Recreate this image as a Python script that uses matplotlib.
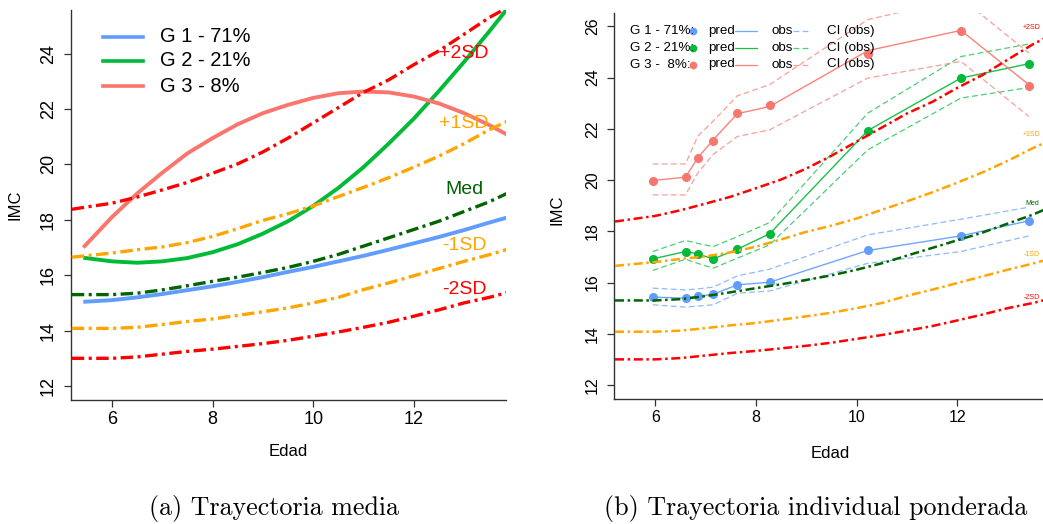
import matplotlib
matplotlib.use('Agg')
import matplotlib.pyplot as plt
from matplotlib.lines import Line2D

plt.rcParams['font.family'] = ['Liberation Sans', 'DejaVu Sans']
plt.rcParams['lines.scale_dashes'] = False

# ---------------- data ----------------
# reference curves (WHO-like), shared by both panels
ref_age = [5.2, 6, 6.5, 7, 7.5, 8, 8.5, 9, 9.5, 10, 10.5, 11, 11.5, 12, 12.5, 13, 13.5, 13.85]
ref_m2 = [13.0, 13.0, 13.05, 13.15, 13.25, 13.33, 13.43, 13.53, 13.65, 13.8, 13.95, 14.12, 14.3, 14.52, 14.75, 15.0, 15.2, 15.37]
ref_m1 = [14.08, 14.08, 14.12, 14.22, 14.33, 14.42, 14.55, 14.68, 14.82, 15.0, 15.2, 15.48, 15.72, 15.98, 16.24, 16.5, 16.74, 16.93]
ref_med = [15.3, 15.3, 15.35, 15.47, 15.62, 15.78, 15.93, 16.1, 16.28, 16.5, 16.75, 17.05, 17.35, 17.65, 17.95, 18.3, 18.65, 18.95]
ref_p1 = [16.65, 16.8, 16.92, 17.02, 17.18, 17.4, 17.68, 17.98, 18.22, 18.5, 18.84, 19.17, 19.52, 19.9, 20.3, 20.75, 21.25, 21.55]
ref_p2 = [18.38, 18.6, 18.82, 19.08, 19.35, 19.68, 20.02, 20.45, 20.95, 21.5, 22.05, 22.6, 23.05, 23.6, 24.1, 24.7, 25.3, 25.65]
ref_names = ['-2SD', '-1SD', 'Med', '+1SD', '+2SD']

# panel (a): mean trajectories
traj_age = [5.43, 6, 6.5, 7, 7.5, 8, 8.5, 9, 9.5, 10, 10.5, 11, 11.5, 12, 12.5, 13, 13.5, 13.85]
g1_traj = [15.04, 15.1, 15.2, 15.32, 15.46, 15.6, 15.76, 15.93, 16.12, 16.3, 16.5, 16.7, 16.92, 17.15, 17.38, 17.63, 17.9, 18.08]
g2_traj = [16.63, 16.5, 16.45, 16.5, 16.62, 16.83, 17.12, 17.5, 17.95, 18.5, 19.15, 19.9, 20.75, 21.65, 22.65, 23.7, 24.8, 25.6]
g3_traj = [17.0, 18.1, 18.95, 19.7, 20.4, 20.95, 21.45, 21.85, 22.15, 22.4, 22.57, 22.63, 22.6, 22.45, 22.2, 21.85, 21.42, 21.08]
group_labels = ['G 1 - 71%', 'G 2 - 21%', 'G 3 - 8%']
group_labels_b = ['G 1 - 71%:', 'G 2 - 21%:', 'G 3 -  8%:']

# panel (b): weighted individual trajectories
obs_age = [5.95, 6.6, 6.84, 7.15, 7.63, 8.27, 10.22, 12.07, 13.42]
g1_pred = [15.43, 15.39, 15.46, 15.54, 15.91, 16.01, 17.25, 17.82, 18.41]
g1_obs = [15.43, 15.39, 15.46, 15.54, 15.91, 16.01, 17.25, 17.82, 18.41]
g1_up = [15.78, 15.71, 15.75, 15.82, 16.26, 16.52, 17.86, 18.47, 18.94]
g1_lo = [15.13, 15.04, 15.08, 15.13, 15.58, 15.67, 16.75, 17.21, 17.82]
g2_pred = [16.92, 17.21, 17.12, 16.92, 17.3, 17.9, 21.93, 23.98, 24.54]
g2_obs = [16.92, 17.21, 17.12, 16.92, 17.3, 17.9, 21.93, 23.98, 24.54]
g2_up = [17.21, 17.64, 17.53, 17.4, 17.79, 18.34, 22.61, 24.82, 25.31]
g2_lo = [16.47, 16.91, 16.75, 16.56, 16.95, 17.47, 21.18, 23.2, 23.61]
g3_pred = [19.97, 20.1, 20.86, 21.54, 22.62, 22.94, 24.92, 25.83, 23.69]
g3_obs = [19.98, 20.11, 20.86, 21.57, 22.59, 22.87, 25.05, 25.84, 23.72]
g3_up = [20.63, 20.63, 21.7, 22.3, 23.29, 23.72, 26.26, 27.1, 24.96]
g3_lo = [19.42, 19.42, 20.27, 21.0, 21.7, 21.96, 23.98, 24.63, 22.48]

left_yticks = [12, 14, 16, 18, 20, 22, 24]
right_yticks = [12, 14, 16, 18, 20, 22, 24, 26]
xticks = [6, 8, 10, 12]

# ---------------- style ----------------
C1, C2, C3 = '#619CFF', '#00BA38', '#F8766D'
ref_cols = ['#FF0000', '#FFA500', '#006400', '#FFA500', '#FF0000']

W, H = 1043, 524
fig = plt.figure(figsize=(W / 100, H / 100), dpi=100)


def box(l, t, r, b):
    return [l / W, 1 - b / H, (r - l) / W, (b - t) / H]


def fx(x):
    return x / W


def fy(y):
    return 1 - y / H


ax1 = fig.add_axes(box(71, 10, 506, 400))
ax2 = fig.add_axes(box(614, 13, 1043, 399))

refs = [ref_m2, ref_m1, ref_med, ref_p1, ref_p2]

for ax, lw, dash, tsize in [(ax1, 2.4, (0, (9, 3.2, 2.2, 3.2)), 13),
                            (ax2, 1.8, (0, (6.5, 2.6, 1.8, 2.6)), 11.5)]:
    for vals, col in zip(refs, ref_cols):
        ax.plot(ref_age, vals, color=col, lw=lw, ls=dash, zorder=4)
    for s in ['top', 'right']:
        ax.spines[s].set_visible(False)
    for s in ['left', 'bottom']:
        ax.spines[s].set_color('#333333')
        ax.spines[s].set_linewidth(1.0)
    ax.set_xticks(xticks)
    ax.set_xticklabels([str(v) for v in xticks])
    ax.tick_params(axis='both', labelsize=tsize, length=5, width=0.9, color='#333333')
    ax.tick_params(axis='x', pad=3)
    ax.tick_params(axis='y', pad=5)

# panel (a)
for vals, col in zip([g1_traj, g2_traj, g3_traj], [C1, C2, C3]):
    ax1.plot(traj_age, vals, color=col, lw=2.8, solid_capstyle='butt',
             solid_joinstyle='round', zorder=3)
ax1.set_xlim(5.185, 13.833)
ax1.set_ylim(11.495, 25.574)
ax1.set_yticks(left_yticks)
ax1.set_yticklabels([str(v) for v in left_yticks], rotation=90, va='center')

lab_y_a = [15.47, 17.09, 19.08, 21.49, 24.02]
for name, col, yv in zip(ref_names, ref_cols, lab_y_a):
    ax1.text(13.0, yv, name, color=col, fontsize=14, ha='center', va='center', zorder=5)

for i, (lab, col) in enumerate(zip(group_labels, [C1, C2, C3])):
    yy = [37, 61, 86][i]
    fig.add_artist(Line2D([fx(103), fx(143)], [fy(yy), fy(yy)], transform=fig.transFigure,
                          color=col, lw=2.6))
    fig.text(fx(160), fy(yy), lab, fontsize=14.5, ha='left', va='center')

# panel (b)
for pred, obs, up, lo, col in [(g1_pred, g1_obs, g1_up, g1_lo, C1),
                               (g2_pred, g2_obs, g2_up, g2_lo, C2),
                               (g3_pred, g3_obs, g3_up, g3_lo, C3)]:
    ax2.plot(obs_age, up, color=col, lw=0.9, ls=(0, (4.2, 2.3)), alpha=0.7, zorder=2)
    ax2.plot(obs_age, lo, color=col, lw=0.9, ls=(0, (4.2, 2.3)), alpha=0.7, zorder=2)
    ax2.plot(obs_age, obs, color=col, lw=1.0, alpha=0.9, zorder=2)
    ax2.plot(obs_age, pred, ls='none', marker='o', ms=5.5, color=col, mec=col, zorder=3)
ax2.set_xlim(5.18, 13.70)
ax2.set_ylim(11.453, 26.52)
ax2.set_yticks(right_yticks)
ax2.set_yticklabels([str(v) for v in right_yticks], rotation=90, va='center')

lab_y_b = [15.41, 17.08, 19.07, 21.77, 25.96]
for name, col, yv in zip(ref_names, ref_cols, lab_y_b):
    ax2.text(13.48, yv, name, color=col, fontsize=5, ha='center', va='center', zorder=5,
             clip_on=False)

for i, (lab, col) in enumerate(zip(group_labels_b, [C1, C2, C3])):
    yy = [31, 48, 64.5][i]
    fig.text(fx(630), fy(yy), lab, fontsize=9.6, ha='left', va='center')
    fig.add_artist(Line2D([fx(693)], [fy(yy)], transform=fig.transFigure, ls='none',
                          marker='o', ms=4.5, color=col))
    fig.text(fx(708), fy(yy), 'pred', fontsize=9.6, ha='left', va='center')
    fig.add_artist(Line2D([fx(735), fx(757)], [fy(yy), fy(yy)], transform=fig.transFigure,
                          color=col, lw=0.9, alpha=0.9))
    fig.text(fx(772), fy(yy), 'obs', fontsize=9.6, ha='left', va='center')
    fig.add_artist(Line2D([fx(793), fx(810)], [fy(yy), fy(yy)], transform=fig.transFigure,
                          color=col, lw=0.9, ls=(0, (4.2, 2.3)), alpha=0.7))
    fig.text(fx(827), fy(yy), 'CI (obs)', fontsize=9.6, ha='left', va='center')

# axis labels
fig.text(fx(288.5), fy(452), 'Edad', fontsize=12, ha='center', va='center')
fig.text(fx(15), fy(205), 'IMC', fontsize=12, ha='center', va='center', rotation=90)
fig.text(fx(830), fy(453), 'Edad', fontsize=12, ha='center', va='center')
fig.text(fx(557), fy(210), 'IMC', fontsize=12, ha='center', va='center', rotation=90)

# captions
fig.text(fx(274), fy(508), '(a) Trayectoria media', family=['cmr10', 'DejaVu Serif'],
         fontsize=18.7, ha='center', va='center')
fig.text(fx(815.5), fy(508), '(b) Trayectoria individual ponderada',
         family=['cmr10', 'DejaVu Serif'], fontsize=18.7, ha='center', va='center')

fig.savefig('out.png', dpi=100)
